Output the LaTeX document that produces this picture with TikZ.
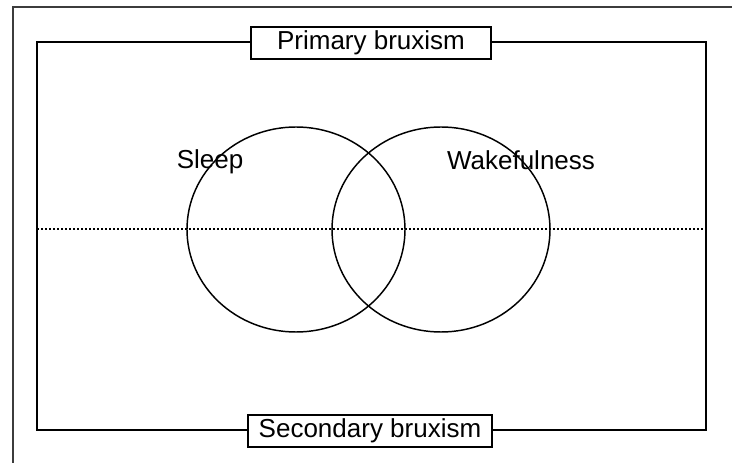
\documentclass[tikz,border=0pt]{standalone}
\usepackage{fontspec}
\setmainfont{Liberation Sans}

\tikzset{every picture/.style={line width=0.75pt}}
\tikzset{
  labelbox/.style={draw, line width=1.6pt, fill=white, inner xsep=8pt, inner ysep=2pt,
    minimum height=24pt, font=\fontsize{19.5}{23}\selectfont},
  setlabel/.style={inner sep=0.75pt, font=\fontsize{19.5}{23}\selectfont},
  setring/.style={line width=1.1pt}
}

\begin{document}
\begin{tikzpicture}[x=0.75pt,y=0.75pt,yscale=-1,xscale=1]
\useasboundingbox (0,0) rectangle (732,463);

%Outer frame
\draw [color={rgb, 255:red, 60; green, 60; blue, 60 }, line width=1.5pt] (13,463) -- (13,7) -- (732,7) ;

%Shape: Rectangle
\draw [line width=2pt] (37,42) rectangle (706,430) ;

%Straight Lines (dotted)
\coordinate (west) at (37,229) ;
\coordinate (east) at (706,229) ;
\draw [line width=1.5pt, dash pattern=on 1.5pt off 1.5pt] (west) -- (east) ;

%Shape: Ellipses
\draw [setring] (296,229.5) ellipse [x radius=109, y radius=102.5] ;
\draw [setring] (441,229.5) ellipse [x radius=109, y radius=102.5] ;

% Text Node
\node [labelbox, minimum width=180pt] (primary) at (371,43) {Primary bruxism};
% Text Node
\node [labelbox, minimum width=183pt] (secondary) at (370,431) {Secondary bruxism};
% Text Node
\node [setlabel] (sleep) at (210,162) {Sleep};
% Text Node
\node [setlabel] (wake) at (521,160) {Wakefulness};

\end{tikzpicture}
\end{document}
